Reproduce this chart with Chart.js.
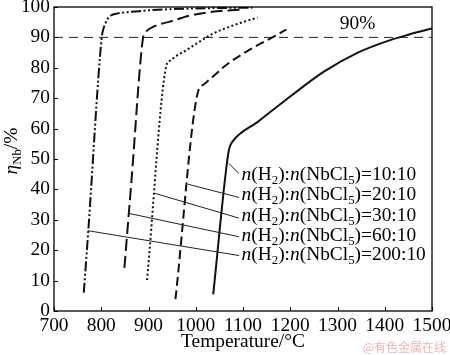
<!DOCTYPE html>
<html><head><meta charset="utf-8">
<script src="https://cdn.jsdelivr.net/npm/chart.js@4/dist/chart.umd.min.js"></script>
<style>html,body{margin:0;padding:0;background:#fff;}canvas{display:block;}</style>
</head><body>
<canvas id="c" width="450" height="355"></canvas>
<script>
const FONT = "'Liberation Serif', 'Times New Roman', serif";
const FS = 19.4;

// Tick values
const xTickValues = [700, 800, 900, 1000, 1100, 1200, 1300, 1400, 1500];
const yTickValues = [0, 10, 20, 30, 40, 50, 60, 70, 80, 90, 100];

// Series: temperature (°C) and eta_Nb (%)
const T_10  = [1037, 1068, 1072, 1078, 1132, 1202, 1272, 1343, 1413, 1450, 1500];
const E_10  = [5.5, 51.0, 54.0, 55.8, 62.3, 70.8, 78.8, 85, 89.2, 90.9, 92.9];

const T_20  = [957, 1007, 1015, 1022, 1040, 1061, 1110, 1167, 1192];
const E_20  = [3.9, 73.2, 74.3, 75.2, 77.6, 80.5, 85.6, 90.4, 92.6];

const T_30  = [897, 938, 945, 960, 980, 1000, 1022, 1040, 1061, 1095, 1131];
const E_30  = [10.2, 80.8, 82.3, 84.0, 85.8, 87.8, 90.0, 91.5, 92.9, 94.8, 96.5];

const T_60  = [849, 864, 888.5, 892, 899, 910, 925, 945, 970, 987, 1008, 1035, 1061, 1093];
const E_60  = [14.2, 43, 90, 91.3, 92.5, 93.5, 94.4, 95.2, 96.4, 97.2, 97.8, 98.4, 98.8, 99.1];

const T_200 = [763, 772.5, 801, 804, 808, 813, 820, 835, 855, 900, 950, 1020, 1120];
const E_200 = [6, 26.2, 90, 92.5, 94.3, 96, 97.2, 97.9, 98.3, 98.9, 99.3, 99.6, 99.8];

// 90% reference line
const refT = [700, 1500];
const refE = [90, 90];
const refLabel = '90%';
const refLabelT = 1305, refLabelE = 94.6;

// Annotation (leader lines and labels), order: 10:10, 20:10, 30:10, 60:10, 200:10
const ratioLabels = ['10:10', '20:10', '30:10', '60:10', '200:10'];
const anchorT = [1070, 983.7, 913.4, 858.5, 772.5];
const anchorE = [48.5, 41.7, 38.7, 32.1, 26.4];
const leaderEndT = [1091.5, 1091.5, 1091.5, 1091.5, 1091.5];
const leaderEndE = [45.25, 37.36, 30.56, 24.42, 18.24];
const labelT = 1097;
const labelE = [44.69, 38.12, 31.38, 24.81, 18.57];

const xTitle = 'Temperature/°C';
const watermark = '@有色金属在线';

function pts(T, E) { return T.map((t, i) => ({x: t, y: E[i]})); }

function drawRich(ctx, parts, x, y, size, measureOnly) {
  let cx = x;
  for (const [t, k] of parts) {
    if (k === 's') {
      ctx.font = `${size * 0.66}px ${FONT}`;
      if (!measureOnly) ctx.fillText(t, cx, y + size * 0.3);
    } else {
      ctx.font = `${k === 'i' ? 'italic ' : ''}${size}px ${FONT}`;
      if (!measureOnly) ctx.fillText(t, cx, y);
    }
    cx += ctx.measureText(t).width;
  }
  return cx - x;
}

const decor = {
  id: 'decor',
  afterDatasetsDraw(chart) {
    const {ctx, chartArea: a, scales: {x, y}} = chart;
    ctx.save();
    // frame
    ctx.strokeStyle = '#000';
    ctx.lineWidth = 1.3;
    ctx.setLineDash([]);
    ctx.strokeRect(a.left, a.top, a.right - a.left, a.bottom - a.top);
    // inner ticks
    ctx.lineWidth = 1;
    ctx.beginPath();
    xTickValues.forEach(v => {
      const px = Math.round(x.getPixelForValue(v)) + 0.5;
      ctx.moveTo(px, a.bottom); ctx.lineTo(px, a.bottom - 4);
    });
    yTickValues.forEach(v => {
      const py = Math.round(y.getPixelForValue(v)) + 0.5;
      ctx.moveTo(a.left, py); ctx.lineTo(a.left + 4, py);
    });
    ctx.stroke();
    // leader lines
    ctx.strokeStyle = '#222';
    ctx.lineWidth = 1;
    ctx.beginPath();
    anchorT.forEach((t, i) => {
      ctx.moveTo(x.getPixelForValue(t), y.getPixelForValue(anchorE[i]));
      ctx.lineTo(x.getPixelForValue(leaderEndT[i]), y.getPixelForValue(leaderEndE[i]));
    });
    ctx.stroke();
    // labels
    ctx.fillStyle = '#000';
    ctx.textBaseline = 'middle';
    ctx.textAlign = 'left';
    ratioLabels.forEach((r, i) => {
      const parts = [['n','i'],['(H','n'],['2','s'],['):','n'],['n','i'],['(NbCl','n'],['5','s'],[')=' + r,'n']];
      drawRich(ctx, parts, x.getPixelForValue(labelT), y.getPixelForValue(labelE[i]), FS);
    });
    // 90% label
    ctx.font = `${FS}px ${FONT}`;
    ctx.fillText(refLabel, x.getPixelForValue(refLabelT), y.getPixelForValue(refLabelE));
    // y-axis title
    const yParts = [['η','i'],['Nb','s'],['/%','n']];
    const w = drawRich(ctx, yParts, 0, 0, FS, true);
    ctx.save();
    ctx.translate(12, 151);
    ctx.rotate(-Math.PI / 2);
    drawRich(ctx, yParts, -w / 2, 0, FS);
    ctx.restore();
    // watermark
    ctx.font = `12px 'Noto Sans CJK SC', sans-serif`;
    ctx.fillStyle = '#f3b3b3';
    ctx.textAlign = 'right';
    ctx.fillText(watermark, 446, 347);
    ctx.restore();
  }
};

const lineBase = {fill: false, pointRadius: 0, borderColor: '#111', borderWidth: 2, cubicInterpolationMode: 'monotone'};

new Chart(document.getElementById('c'), {
  type: 'line',
  data: {
    datasets: [
      {...lineBase, label: '10:10', data: pts(T_10, E_10)},
      {...lineBase, label: '20:10', data: pts(T_20, E_20), borderDash: [9, 4.5]},
      {...lineBase, label: '30:10', data: pts(T_30, E_30), borderDash: [2, 2.5]},
      {...lineBase, label: '60:10', data: pts(T_60, E_60), borderDash: [12, 5]},
      {...lineBase, label: '200:10', data: pts(T_200, E_200), borderDash: [10, 2.5, 2, 2.5, 2, 2.5]},
      {label: '90%', data: pts(refT, refE), fill: false, pointRadius: 0, borderColor: '#222', borderWidth: 1, borderDash: [9, 6], tension: 0}
    ]
  },
  options: {
    responsive: false,
    devicePixelRatio: 1,
    animation: false,
    layout: {padding: {top: 7, right: 18, left: 0, bottom: 0}},
    plugins: {legend: {display: false}, tooltip: {enabled: false}},
    scales: {
      x: {
        type: 'linear', min: 700, max: 1500,
        afterBuildTicks: s => { s.ticks = xTickValues.map(v => ({value: v})); },
        afterFit: s => { s.height = 44; s.paddingLeft = 0; s.paddingRight = 0; },
        ticks: {font: {family: FONT, size: FS}, color: '#000', padding: 3, maxRotation: 0, autoSkip: false, callback: v => String(v)},
        grid: {display: false, drawTicks: false, tickLength: 0},
        border: {display: false},
        title: {display: true, text: xTitle, font: {family: FONT, size: FS}, color: '#000', padding: {top: 0, bottom: 1}}
      },
      y: {
        type: 'linear', min: 0, max: 100,
        afterBuildTicks: s => { s.ticks = yTickValues.map(v => ({value: v})); },
        afterFit: s => { s.width = 54; s.paddingTop = 0; s.paddingBottom = 0; },
        ticks: {font: {family: FONT, size: FS}, color: '#000', padding: 4, autoSkip: false, callback: v => String(v)},
        grid: {display: false, drawTicks: false, tickLength: 0},
        border: {display: false}
      }
    }
  },
  plugins: [decor]
});
</script>
</body></html>
